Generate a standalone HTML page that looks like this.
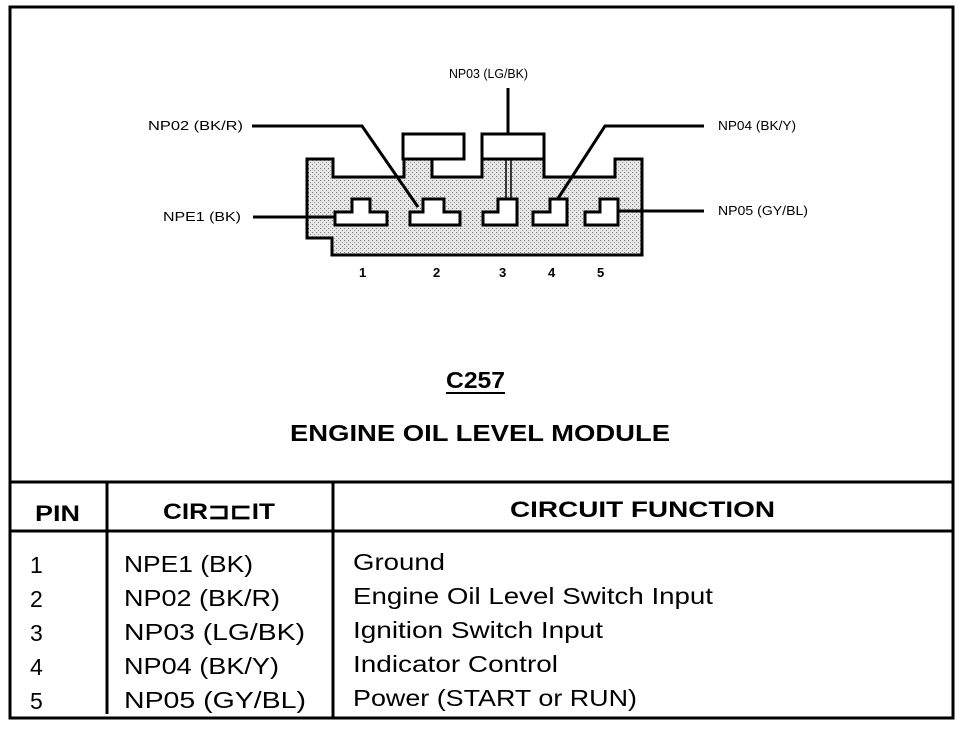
<!DOCTYPE html>
<html><head><style>html,body{margin:0;padding:0;background:#fff}</style></head>
<body>
<svg width="976" height="728" viewBox="0 0 976 728" xmlns="http://www.w3.org/2000/svg" font-family="Liberation Sans, Arial, sans-serif">
<defs>
<pattern id="dots" width="4" height="4" patternUnits="userSpaceOnUse">
<rect width="4" height="4" fill="#e6e6e6"/>
<rect x="0" y="0" width="1" height="1" fill="#777"/>
<rect x="2" y="2" width="1" height="1" fill="#999"/>
</pattern>
</defs>
<rect x="10" y="7" width="943" height="711" fill="none" stroke="#000" stroke-width="3"/>
<line x1="10" y1="482" x2="953" y2="482" stroke="#000" stroke-width="3"/>
<line x1="10" y1="531" x2="953" y2="531" stroke="#000" stroke-width="3"/>
<line x1="107" y1="482" x2="107" y2="714" stroke="#000" stroke-width="3"/>
<line x1="333" y1="482" x2="333" y2="718" stroke="#000" stroke-width="3"/>

<path d="M307,159 H333 V177 H404 V159 H432 V177 H482 V159 H544 V177 H615 V159 H642 V255 H332 V238 H307 Z" fill="url(#dots)" stroke="#000" stroke-width="3"/>
<rect x="403" y="134" width="61" height="25" fill="#fff" stroke="#000" stroke-width="3"/>
<rect x="482" y="134" width="62" height="25" fill="#fff" stroke="#000" stroke-width="3"/>
<g fill="#fff" stroke="#000" stroke-width="3">
<path d="M335,212 H352 V199 H370 V212 H387 V225 H335 Z"/>
<path d="M410,212 H423 V199 H444 V212 H460 V225 H410 Z"/>
<path d="M483,212 H498 V199 H517 V225 H483 Z"/>
<path d="M533,212 H550 V199 H567 V225 H533 Z"/>
<path d="M585,212 H600 V199 H618 V225 H585 Z"/>
</g>
<g stroke="#000" stroke-width="3" fill="none">
<polyline points="252,126 362,126 418,207"/>
<polyline points="704,126 605,126 557,200"/>
<line x1="508" y1="88" x2="508" y2="134"/>
<line x1="253" y1="217" x2="335" y2="217"/>
<line x1="618" y1="211" x2="704" y2="211"/>
</g>
<line x1="506" y1="159" x2="506" y2="199" stroke="#000" stroke-width="1.5"/>
<line x1="511" y1="159" x2="511" y2="199" stroke="#000" stroke-width="1.5"/>

<g font-size="13" fill="#000" lengthAdjust="spacingAndGlyphs">
<text x="449" y="78" textLength="79" lengthAdjust="spacingAndGlyphs">NP03 (LG/BK)</text>
<text x="148" y="130" textLength="95" lengthAdjust="spacingAndGlyphs">NP02 (BK/R)</text>
<text x="163" y="221" textLength="78" lengthAdjust="spacingAndGlyphs">NPE1 (BK)</text>
<text x="718" y="130" textLength="78" lengthAdjust="spacingAndGlyphs">NP04 (BK/Y)</text>
<text x="718" y="215" textLength="90" lengthAdjust="spacingAndGlyphs">NP05 (GY/BL)</text>
<text x="359" y="277" font-weight="bold">1</text>
<text x="433" y="277" font-weight="bold">2</text>
<text x="499" y="277" font-weight="bold">3</text>
<text x="548" y="277" font-weight="bold">4</text>
<text x="597" y="277" font-weight="bold">5</text>
</g>

<text x="446" y="388" font-size="23" font-weight="bold" textLength="59" lengthAdjust="spacingAndGlyphs">C257</text>
<line x1="446" y1="393" x2="505" y2="393" stroke="#000" stroke-width="2"/>
<text x="290" y="441" font-size="23" font-weight="bold" textLength="380" lengthAdjust="spacingAndGlyphs">ENGINE OIL LEVEL MODULE</text>

<g font-size="22" font-weight="bold">
<text x="35" y="521" textLength="45" lengthAdjust="spacingAndGlyphs">PIN</text>
<text x="163" y="519" textLength="112" lengthAdjust="spacingAndGlyphs">CIR⊐⊏IT</text>
<text x="510" y="517" textLength="265" lengthAdjust="spacingAndGlyphs">CIRCUIT FUNCTION</text>
</g>
<g font-size="23">
<text x="30" y="573">1</text><text x="124" y="572" textLength="129" lengthAdjust="spacingAndGlyphs">NPE1 (BK)</text><text x="353" y="570" textLength="92" lengthAdjust="spacingAndGlyphs">Ground</text>
<text x="30" y="607">2</text><text x="124" y="606" textLength="156" lengthAdjust="spacingAndGlyphs">NP02 (BK/R)</text><text x="353" y="604" textLength="360" lengthAdjust="spacingAndGlyphs">Engine Oil Level Switch Input</text>
<text x="30" y="641">3</text><text x="124" y="640" textLength="181" lengthAdjust="spacingAndGlyphs">NP03 (LG/BK)</text><text x="353" y="638" textLength="250" lengthAdjust="spacingAndGlyphs">Ignition Switch Input</text>
<text x="30" y="675">4</text><text x="124" y="674" textLength="155" lengthAdjust="spacingAndGlyphs">NP04 (BK/Y)</text><text x="353" y="672" textLength="205" lengthAdjust="spacingAndGlyphs">Indicator Control</text>
<text x="30" y="709">5</text><text x="124" y="708" textLength="182" lengthAdjust="spacingAndGlyphs">NP05 (GY/BL)</text><text x="353" y="706" textLength="284" lengthAdjust="spacingAndGlyphs">Power (START or RUN)</text>
</g>
</svg>
</body></html>
